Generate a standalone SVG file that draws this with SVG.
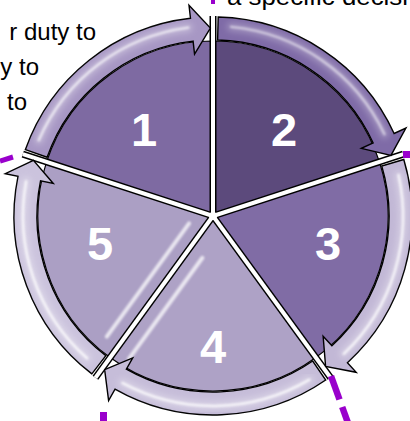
<svg xmlns="http://www.w3.org/2000/svg" width="410" height="421" viewBox="0 0 410 421">
<defs>
<style>
.wedge{stroke:#000;stroke-width:1.2;stroke-linejoin:round}
.arrow{stroke:#000;stroke-width:1.4;stroke-linejoin:miter}
.num{font-family:"Liberation Sans",Arial,sans-serif;font-weight:bold;font-size:47px;fill:#fff;text-anchor:middle}
.txt{font-family:"Liberation Sans",Arial,sans-serif;font-size:24px;fill:#000}
.hl{fill:none;stroke:#fff;stroke-linecap:round}
.spk-b{stroke:#000;stroke-width:7;stroke-linecap:butt}
.spk-w{stroke:#fff;stroke-width:4;stroke-linecap:butt}
.mark{fill:#9900cc}
.dash{stroke:#9900cc;stroke-linecap:butt;fill:none}
</style>
<filter id="blur" x="-20%" y="-20%" width="140%" height="140%"><feGaussianBlur stdDeviation="1.3"/></filter>
<filter id="blur2" x="-20%" y="-20%" width="140%" height="140%"><feGaussianBlur stdDeviation="3"/></filter>
</defs>
<rect width="410" height="421" fill="#fff"/>
<g id="labels-text">
<text class="txt" x="96" y="40" text-anchor="end">r duty to</text>
<text class="txt" x="39" y="75" text-anchor="end">y to</text>
<text class="txt" x="27" y="110" text-anchor="end">to</text>
<text class="txt" x="227" y="5" textLength="181" lengthAdjust="spacingAndGlyphs">a specific decisi</text>
</g>
<g id="segments">
<g id="segment-1">
<path class="wedge" fill="#7e6aa2" d="M213,216 L46.57,161.92 A175,175 0 0 1 213,41 Z"/>
<line class="hl" x1="203" y1="55" x2="203" y2="198" stroke-width="4" opacity="0.3" filter="url(#blur)"/>
<text class="num" x="144" y="146">1</text>
</g>
<g id="segment-2">
<path class="wedge" fill="#5c4a7c" d="M213,216 L213,41 A175,175 0 0 1 379.43,161.92 Z"/>
<line class="hl" x1="224" y1="46" x2="224" y2="204" stroke-width="7" opacity="0.3" filter="url(#blur)"/>
<text class="num" x="284" y="146">2</text>
</g>
<g id="segment-3">
<path class="wedge" fill="#806ca5" d="M213,216 L379.43,161.92 A175,175 0 0 1 315.86,357.58 Z"/>
<text class="num" x="328" y="260">3</text>
</g>
<g id="segment-4">
<path class="wedge" fill="#aea2c6" d="M213,216 L315.86,357.58 A175,175 0 0 1 110.14,357.58 Z"/>
<line class="hl" x1="202.4" y1="257.8" x2="128.9" y2="358.9" stroke-width="4" opacity="0.75" filter="url(#blur)"/>
<text class="num" x="213" y="363">4</text>
</g>
<g id="segment-5">
<path class="wedge" fill="#ab9fc4" d="M213,216 L110.14,357.58 A175,175 0 0 1 46.57,161.92 Z"/>
<line class="hl" x1="189.1" y1="223.4" x2="106.8" y2="336.6" stroke-width="4" opacity="0.75" filter="url(#blur)"/>
<text class="num" x="100" y="260">5</text>
</g>
</g>
<g id="dividers">
<line class="spk-b" x1="213" y1="216" x2="213" y2="16"/>
<line class="spk-b" x1="213" y1="216" x2="403.22" y2="154.2"/>
<line class="spk-b" x1="213" y1="216" x2="330.56" y2="377.8"/>
<line class="spk-b" x1="213" y1="216" x2="95.44" y2="377.8"/>
<line class="spk-b" x1="213" y1="216" x2="22.78" y2="154.2"/>
<line class="spk-w" x1="213" y1="216" x2="213" y2="16"/>
<line class="spk-w" x1="213" y1="216" x2="403.22" y2="154.2"/>
<line class="spk-w" x1="213" y1="216" x2="330.56" y2="377.8"/>
<line class="spk-w" x1="213" y1="216" x2="95.44" y2="377.8"/>
<line class="spk-w" x1="213" y1="216" x2="22.78" y2="154.2"/>
<circle cx="213" cy="216" r="4" fill="#fff"/>
</g>
<g id="connectors">
<g id="arrow-1">
<path class="arrow" fill="#a797c4" d="M25.42,149.57 A199,199 0 0 1 190.47,18.27 L189,5.36 L210.38,28.02 L194.55,54.04 L193.08,41.13 A176,176 0 0 0 47.1,157.25 Z"/>
<path class="hl" d="M38.75,140.25 A190,190 0 0 1 188.2,27.63" stroke-width="9" opacity="0.3" filter="url(#blur2)"/>
<path class="hl" d="M38.75,140.25 A190,190 0 0 1 188.2,27.63" stroke-width="2.5" opacity="0.7" filter="url(#blur)"/>
</g>
<g id="arrow-2">
<path class="arrow" fill="#7f6ba7" d="M218.21,17.07 A199,199 0 0 1 394.09,133.47 L405.92,128.08 L390.96,155.41 L361.33,148.4 L373.16,143.01 A176,176 0 0 0 217.61,40.06 Z"/>
<path class="hl" d="M231.21,26.87 A190,190 0 0 1 384.5,134.2" stroke-width="9" opacity="0.25" filter="url(#blur2)"/>
<path class="hl" d="M231.21,26.87 A190,190 0 0 1 384.5,134.2" stroke-width="2.5" opacity="0.55" filter="url(#blur)"/>
</g>
<g id="arrow-3">
<path class="arrow" fill="#c2b8d6" d="M403.8,159.48 A199,199 0 0 1 347.44,362.72 L356.23,372.31 L325.61,366.53 L323.12,336.18 L331.91,345.76 A176,176 0 0 0 381.75,166.02 Z"/>
<path class="hl" d="M398.5,174.88 A190,190 0 0 1 343.8,353.83" stroke-width="9" opacity="0.3" filter="url(#blur2)"/>
<path class="hl" d="M398.5,174.88 A190,190 0 0 1 343.8,353.83" stroke-width="2.5" opacity="0.8" filter="url(#blur)"/>
</g>
<g id="arrow-4">
<path class="arrow" fill="#c6bdd9" d="M325.71,380 A199,199 0 0 1 115.01,389.21 L108.61,400.52 L104.64,369.61 L132.74,357.88 L126.34,369.19 A176,176 0 0 0 312.69,361.04 Z"/>
<path class="hl" d="M309.43,379.7 A190,190 0 0 1 122.33,382.97" stroke-width="9" opacity="0.3" filter="url(#blur2)"/>
<path class="hl" d="M309.43,379.7 A190,190 0 0 1 122.33,382.97" stroke-width="2.5" opacity="0.8" filter="url(#blur)"/>
</g>
<g id="arrow-5">
<path class="arrow" fill="#cbc3dd" d="M91.85,373.89 A199,199 0 0 1 18,176.32 L5.26,173.73 L33.4,160.41 L53.28,183.5 L40.54,180.91 A176,176 0 0 0 105.85,355.64 Z"/>
<path class="hl" d="M87.11,358.31 A190,190 0 0 1 26.18,181.38" stroke-width="9" opacity="0.3" filter="url(#blur2)"/>
<path class="hl" d="M87.11,358.31 A190,190 0 0 1 26.18,181.38" stroke-width="2.5" opacity="0.8" filter="url(#blur)"/>
</g>
</g>
<g id="purple-marks">
<rect class="mark" x="211" y="0" width="4" height="4"/>
<rect class="mark" x="403" y="151" width="7" height="7"/>
<rect class="mark" x="100" y="412" width="7" height="9"/>
<line class="dash" x1="13" y1="157" x2="0" y2="161" stroke-width="5"/>
<line class="dash" x1="331" y1="376" x2="339.5" y2="399.5" stroke-width="6.5"/>
<line class="dash" x1="342.2" y1="407" x2="348" y2="423" stroke-width="6.5"/>
</g>
</svg>
